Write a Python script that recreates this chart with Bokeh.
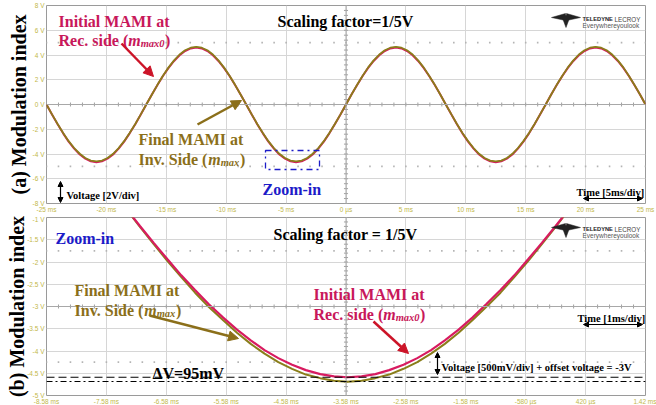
import numpy as np
from bokeh.plotting import figure
from bokeh.layouts import column
from bokeh.models import Label, Arrow, NormalHead, BoxAnnotation, Span, FixedTicker
from bokeh.embed import file_html
from bokeh.resources import INLINE

# ---------------- data ----------------
# panel (a): full view, time in ms, voltage in V
time_a = [-25.00, -24.54, -24.07, -23.61, -23.15, -22.69, -22.22, -21.76, -21.30, -20.83,
          -20.37, -19.91, -19.44, -18.98, -18.52, -18.06, -17.59, -17.13, -16.67, -16.20,
          -15.74, -15.28, -14.81, -14.35, -13.89, -13.43, -12.96, -12.50, -12.04, -11.57,
          -11.11, -10.65, -10.19, -9.72, -9.26, -8.80, -8.33, -7.87, -7.41, -6.94,
          -6.48, -6.02, -5.56, -5.09, -4.63, -4.17, -3.70, -3.24, -2.78, -2.31,
          -1.85, -1.39, -0.93, -0.46, 0.00, 0.46, 0.93, 1.39, 1.85, 2.31,
          2.78, 3.24, 3.70, 4.17, 4.63, 5.09, 5.56, 6.02, 6.48, 6.94,
          7.41, 7.87, 8.33, 8.80, 9.26, 9.72, 10.19, 10.65, 11.11, 11.57,
          12.04, 12.50, 12.96, 13.43, 13.89, 14.35, 14.81, 15.28, 15.74, 16.20,
          16.67, 17.13, 17.59, 18.06, 18.52, 18.98, 19.44, 19.91, 20.37, 20.83,
          21.30, 21.76, 22.22, 22.69, 23.15, 23.61, 24.07, 24.54, 25.00]

final_a = [0.00, -0.80, -1.57, -2.30, -2.96, -3.52, -3.98, -4.32, -4.53, -4.60, -4.53, -4.32, -3.98, -3.52, -2.96, -2.30, -1.57, -0.80,
           0.00, 0.81, 1.59, 2.33, 3.00, 3.57, 4.04, 4.38, 4.59, 4.66, 4.59, 4.38, 4.04, 3.57, 3.00, 2.33, 1.59, 0.81,
           0.00, -0.80, -1.57, -2.30, -2.96, -3.52, -3.98, -4.32, -4.53, -4.60, -4.53, -4.32, -3.98, -3.52, -2.96, -2.30, -1.57, -0.80,
           0.00, 0.81, 1.59, 2.33, 3.00, 3.57, 4.04, 4.38, 4.59, 4.66, 4.59, 4.38, 4.04, 3.57, 3.00, 2.33, 1.59, 0.81,
           0.00, -0.80, -1.57, -2.30, -2.96, -3.52, -3.98, -4.32, -4.53, -4.60, -4.53, -4.32, -3.98, -3.52, -2.96, -2.30, -1.57, -0.80,
           0.00, 0.81, 1.59, 2.33, 3.00, 3.57, 4.04, 4.38, 4.59, 4.66, 4.59, 4.38, 4.04, 3.57, 3.00, 2.33, 1.59, 0.81,
           0.00]

initial_a = [0.00, -0.81, -1.59, -2.33, -3.00, -3.57, -4.04, -4.38, -4.59, -4.66, -4.59, -4.38, -4.04, -3.57, -3.00, -2.33, -1.59, -0.81,
             0.00, 0.80, 1.57, 2.30, 2.96, 3.52, 3.98, 4.32, 4.53, 4.60, 4.53, 4.32, 3.98, 3.52, 2.96, 2.30, 1.57, 0.80,
             0.00, -0.81, -1.59, -2.33, -3.00, -3.57, -4.04, -4.38, -4.59, -4.66, -4.59, -4.38, -4.04, -3.57, -3.00, -2.33, -1.59, -0.81,
             0.00, 0.80, 1.57, 2.30, 2.96, 3.52, 3.98, 4.32, 4.53, 4.60, 4.53, 4.32, 3.98, 3.52, 2.96, 2.30, 1.57, 0.80,
             0.00, -0.81, -1.59, -2.33, -3.00, -3.57, -4.04, -4.38, -4.59, -4.66, -4.59, -4.38, -4.04, -3.57, -3.00, -2.33, -1.59, -0.81,
             0.00, 0.80, 1.57, 2.30, 2.96, 3.52, 3.98, 4.32, 4.53, 4.60, 4.53, 4.32, 3.98, 3.52, 2.96, 2.30, 1.57, 0.80,
             0.00]

# panel (b): zoom-in on one trough
time_b = [-7.72, -7.49, -7.25, -7.02, -6.79, -6.56, -6.33, -6.10, -5.87, -5.63, -5.40, -5.17,
          -4.94, -4.71, -4.48, -4.25, -4.01, -3.78, -3.55, -3.32, -3.09, -2.86, -2.62, -2.39,
          -2.16, -1.93, -1.70, -1.47, -1.24, -1.00, -0.77, -0.54, -0.31, -0.08, 0.15, 0.39, 0.62]
initial_b = [0.00, -0.40, -0.80, -1.19, -1.57, -1.94, -2.30, -2.63, -2.95, -3.25, -3.52, -3.76,
             -3.98, -4.16, -4.31, -4.43, -4.52, -4.57, -4.59, -4.57, -4.52, -4.43, -4.31, -4.16,
             -3.98, -3.76, -3.52, -3.25, -2.95, -2.63, -2.30, -1.94, -1.57, -1.19, -0.80, -0.40, 0.00]
final_b = [0.00, -0.41, -0.81, -1.21, -1.60, -1.98, -2.34, -2.69, -3.01, -3.31, -3.59, -3.84,
           -4.06, -4.25, -4.40, -4.53, -4.61, -4.67, -4.69, -4.67, -4.61, -4.53, -4.40, -4.25,
           -4.06, -3.84, -3.59, -3.31, -3.01, -2.69, -2.34, -1.98, -1.60, -1.21, -0.81, -0.41, 0.00]
min_initial_b = -4.59
min_final_b = -4.685

# tick labels
xticks_a = [-25, -20, -15, -10, -5, 0, 5, 10, 15, 20, 25]
xlabels_a = ["-25 ms", "-20 ms", "-15 ms", "-10 ms", "-5 ms", "0 µs", "5 ms", "10 ms", "15 ms", "20 ms", "25 ms"]
yticks_a = [-8, -6, -4, -2, 0, 2, 4, 6, 8]
ylabels_a = ["-8 V", "-6 V", "-4 V", "-2 V", "0 V", "2 V", "4 V", "6 V", "8 V"]
xticks_b = [-8.58, -7.58, -6.58, -5.58, -4.58, -3.58, -2.58, -1.58, -0.58, 0.42, 1.42]
xlabels_b = ["-8.58 ms", "-7.58 ms", "-6.58 ms", "-5.58 ms", "-4.58 ms", "-3.58 ms", "-2.58 ms",
             "-1.58 ms", "-580 µs", "420 µs", "1.42 ms"]
yticks_b = [-5, -4.5, -4, -3.5, -3, -2.5, -2, -1.5, -1]
ylabels_b = ["-5 V", "-4.5 V", "-4 V", "-3.5 V", "-3 V", "-2.5 V", "-2 V", "-1.5 V", "-1 V"]

# ---------------- styling ----------------
PINK = "#d81b60"
OLIVE = "#8a7e1a"
TXT_PINK = "#c8185a"
TXT_OLIVE = "#8b6f1a"
ARROW_RED = "#cc1428"
BLUE = "#1c1cc8"
TICK_COL = "#c2b84a"
SERIF = "Liberation Serif"

FW = 599
LB, RB = 46, 11


def make_fig(fh, top, bottom, xr, yr, xt, xl, yt, yl, ylabel, lstand):
    p = figure(frame_width=FW, frame_height=fh, x_range=xr, y_range=yr, output_backend="svg",
               toolbar_location=None, title_location=None,
               min_border_left=LB, min_border_right=RB,
               min_border_top=top, min_border_bottom=bottom)
    p.xaxis.ticker = FixedTicker(ticks=xt)
    p.yaxis.ticker = FixedTicker(ticks=yt)
    p.xaxis.major_label_overrides = {t: s for t, s in zip(xt, xl)}
    p.yaxis.major_label_overrides = {t: s for t, s in zip(yt, yl)}
    for ax in (p.xaxis, p.yaxis):
        ax.axis_line_color = None
        ax.major_tick_line_color = None
        ax.minor_tick_line_color = None
        ax.major_tick_out = 0
        ax.major_tick_in = 0
        ax.major_label_text_color = TICK_COL
        ax.major_label_text_font = "Liberation Sans"
        ax.major_label_text_font_size = "6.5px"
        ax.major_label_standoff = 2
    p.yaxis.axis_label = ylabel
    p.yaxis.axis_label_text_font = SERIF
    p.yaxis.axis_label_text_font_style = "bold"
    p.yaxis.axis_label_text_font_size = "20px"
    p.yaxis.axis_label_text_color = "black"
    p.yaxis.axis_label_standoff = lstand
    p.grid.grid_line_color = "#d6d6d6"
    p.grid.grid_line_width = 1
    p.outline_line_color = "#9a9a9a"
    p.outline_line_width = 1
    p.background_fill_color = "white"
    p.border_fill_color = "white"
    return p


def lab(p, x, y, text, color="black", size="16px", style="bold", font=SERIF, **kw):
    opts = dict(text_baseline="alphabetic", text_align="left")
    opts.update(kw)
    p.add_layout(Label(x=x, y=y, text=text, text_color=color, text_font=font,
                       text_font_size=size, text_font_style=style, **opts))


def sub_label(p, fx, fy, px, py, main, sub, color, sub_dy=3):
    # "<main> (m_sub)" with italic m and smaller italic subscript
    w_main = {"Rec. side (": 69.8, "Inv. Side (": 69.8}[main]
    w_sub = {"max0": 23.9, "max": 18.7}[sub]
    lab(p, fx(px), fy(py), main, color)
    lab(p, fx(px + w_main), fy(py), "m", color, "16px", "bold italic")
    lab(p, fx(px + w_main + 12.4), fy(py + sub_dy), sub, color, "10.5px", "bold italic")
    lab(p, fx(px + w_main + 12.4 + w_sub + 0.5), fy(py), ")", color)


def arrow(p, x0, y0, x1, y1, color, width=2.5, size=10, double=False):
    head = NormalHead(size=size, fill_color=color, line_color=color)
    kw = {}
    if double:
        kw["start"] = NormalHead(size=size, fill_color=color, line_color=color)
    p.add_layout(Arrow(end=head, x_start=x0, y_start=y0, x_end=x1, y_end=y1,
                       line_color=color, line_width=width, **kw))


def crosshair(p, xc, yc, xs, ys, dx, dy):
    p.add_layout(Span(location=yc, dimension="width", line_color="#a8a8a8", line_width=1))
    p.add_layout(Span(location=xc, dimension="height", line_color="#a8a8a8", line_width=1))
    xs = np.asarray(xs)
    ys = np.asarray(ys)
    p.segment(x0=xs, y0=yc - dy, x1=xs, y1=yc + dy, line_color="#a0a0a0", line_width=1)
    p.segment(x0=xc - dx, y0=ys, x1=xc + dx, y1=ys, line_color="#a0a0a0", line_width=1)


def dots(p, xs, y):
    p.scatter(x=np.asarray(xs), y=np.full(len(xs), y), size=1.6, marker="square",
              color="#b4b4b4", line_color=None)


def logo(p, fx, fy, top):
    t = top
    shapes = [[(551, t + 4), (565, t + 0), (565, t + 7)],
              [(580, t + 4), (566, t + 0), (566, t + 7)],
              [(561, t + 2), (570, t + 2), (565.5, t + 14)]]
    xs = [[fx(a) for a, b in s] for s in shapes]
    ys = [[fy(b) for a, b in s] for s in shapes]
    p.patches(xs, ys, fill_color="#222222", line_color="#222222", line_width=0.5)
    lab(p, fx(582), fy(t + 5.5), "TELEDYNE", "#222222", "5.7px", "bold", "Liberation Sans")
    lab(p, fx(614), fy(t + 5.5), "LECROY", "#444444", "6.3px", "normal", "Liberation Sans")
    lab(p, fx(582), fy(t + 11.5), "Everywhereyoulook", "#555555", "6.5px", "normal", "Liberation Sans")


# ---------------- panel (a) ----------------
pa = make_fig(198, 5, 11, (-25, 25), (-8, 8), xticks_a, xlabels_a, yticks_a, ylabels_a,
              "(a) Modulation index", 0)


def ax_(px):
    return -25 + (px - 46) * 50 / 599


def ay_(py):
    return 8 - (py - 5) * 16 / 198


crosshair(pa, 0, 0, np.arange(-25, 26, 1), np.arange(-8, 8.01, 0.4), 0.17, 0.16)
dots(pa, np.arange(-25, 26, 1), 5)
dots(pa, np.arange(-25, 26, 1), -5)

pa.line(time_a, initial_a, line_color=PINK, line_width=2.0)
pa.line(time_a, final_a, line_color=OLIVE, line_width=1.8)

lab(pa, ax_(58), ay_(21), "Initial MAMI at", TXT_PINK)
sub_label(pa, ax_, ay_, 58, 40, "Rec. side (", "max0", TXT_PINK)
lab(pa, ax_(277), ay_(21), "Scaling factor=1/5V", "black")

lab(pa, ax_(138), ay_(139), "Final MAMI at", TXT_OLIVE)
sub_label(pa, ax_, ay_, 138, 159, "Inv. Side (", "max", TXT_OLIVE)

arrow(pa, ax_(121), ay_(43), ax_(153), ay_(76), ARROW_RED)
arrow(pa, ax_(197), ay_(124), ax_(241), ay_(100), TXT_OLIVE)

lab(pa, ax_(66), ay_(195), "Voltage [2V/div]", "black", "10.5px")
arrow(pa, ax_(60), ay_(181), ax_(60), ay_(202), "black", 1.2, 5, True)
lab(pa, ax_(576), ay_(192), "Time [5ms/div]", "black", "10.5px")
arrow(pa, ax_(583), ay_(198), ax_(642), ay_(198), "black", 1.2, 5, True)

pa.add_layout(BoxAnnotation(left=ax_(265), right=ax_(319), top=ay_(150), bottom=ay_(169),
                            fill_color=None, fill_alpha=0, line_color=BLUE, line_alpha=1.0,
                            line_width=1.3, line_dash="dashdot"))
lab(pa, ax_(262), ay_(189), "Zoom-in", BLUE)
logo(pa, ax_, ay_, 13)

# ---------------- panel (b) ----------------
pb = make_fig(178, 2, 11, (-8.58, 1.42), (-5, -1), xticks_b, xlabels_b, yticks_b, ylabels_b,
              "(b) Modulation index", -4)


def bx_(px):
    return -8.58 + (px - 46) * 10 / 599


def by_(py):
    return -1 - (py - 216) * 4 / 178


crosshair(pb, -3.58, -3, np.arange(-8.58, 1.43, 0.2), np.arange(-5, -0.99, 0.1), 0.034, 0.045)
dots(pb, np.arange(-8.58, 1.43, 0.2), -1.75)
dots(pb, np.arange(-8.58, 1.43, 0.2), -4.25)

pb.line(time_b, final_b, line_color=OLIVE, line_width=2.0)
pb.line(time_b, initial_b, line_color=PINK, line_width=2.2)

pb.add_layout(Span(location=min_initial_b, dimension="width", line_color="black",
                   line_width=1.2, line_dash="8 4"))
pb.add_layout(Span(location=min_final_b, dimension="width", line_color="black",
                   line_width=1.2, line_dash="6 3 2 3"))

lab(pb, bx_(55), by_(237), "Zoom-in", BLUE)
lab(pb, bx_(273), by_(233), "Scaling factor = 1/5V", "black")

lab(pb, bx_(74), by_(289), "Final MAMI at", TXT_OLIVE)
sub_label(pb, bx_, by_, 74, 309, "Inv. Side (", "max", TXT_OLIVE)

lab(pb, bx_(313), by_(293), "Initial MAMI at", TXT_PINK)
sub_label(pb, bx_, by_, 313, 313, "Rec. side (", "max0", TXT_PINK)

arrow(pb, bx_(149), by_(314), bx_(238), by_(337), TXT_OLIVE)
arrow(pb, bx_(373), by_(320), bx_(408), by_(352), ARROW_RED)

lab(pb, bx_(152), by_(372), "ΔV=95mV", "black")
lab(pb, bx_(577), by_(317), "Time [1ms/div]", "black", "10.5px")
arrow(pb, bx_(583), by_(323), bx_(642), by_(323), "black", 1.2, 5, True)
lab(pb, bx_(441), by_(366), "Voltage [500mV/div] + offset voltage = -3V", "black", "10.5px")
arrow(pb, bx_(437), by_(351), bx_(437), by_(373), "black", 1.2, 5, True)
logo(pb, bx_, by_, 222)

layout = column(pa, pb, spacing=0)
open("out.html", "w").write(file_html(layout, INLINE))
